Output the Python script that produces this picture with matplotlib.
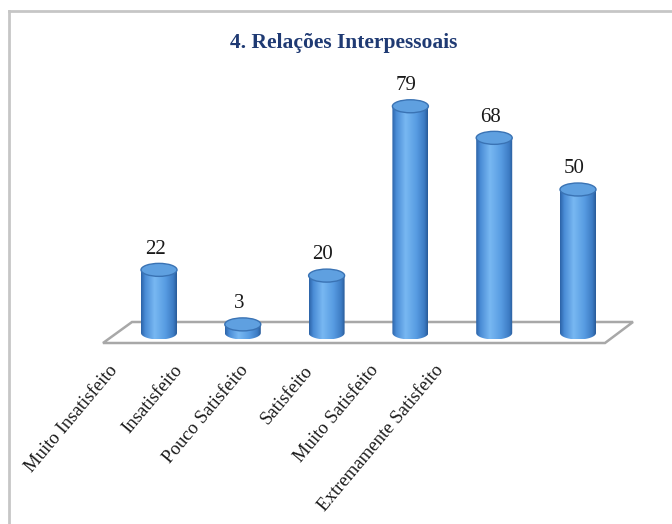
import numpy as np
import matplotlib
matplotlib.use("Agg")
import matplotlib.pyplot as plt
from matplotlib.patches import Polygon, Ellipse
from matplotlib.colors import LinearSegmentedColormap
from matplotlib.lines import Line2D

categories = ["Muito Insatisfeito", "Insatisfeito", "Pouco Satisfeito",
              "Satisfeito", "Muito Satisfeito", "Extremamente Satisfeito"]
values = [22, 3, 20, 79, 68, 50]
title = "4. Relações Interpessoais"

W, H = 672, 524
fig = plt.figure(figsize=(W / 100, H / 100), dpi=100)
ax = fig.add_axes([0, 0, 1, 1])
ax.axis("off")

# pixel layout: category i at x0 + dx*i, value v at y0 - k*v (from top)
x0, dx = 159.0, 83.8
y0, k = 333.0, 2.87
xlim = (-x0 / dx, (W - x0) / dx)
ylim = (-(H - y0) / k, y0 / k)

serif = "Liberation Serif"

# cylinder shading, dark edges and a highlight left of centre
cyl = LinearSegmentedColormap.from_list("cyl", [
    (0.0, "#2b62a6"), (0.12, "#4a8cd6"), (0.38, "#78b8f2"),
    (0.68, "#589ce2"), (0.9, "#3d7cc4"), (1.0, "#285a98")])
grad = np.linspace(0, 1, 256).reshape(1, -1)

# floor plate
fx_front = ((103 - x0) / dx, (605 - x0) / dx)
fx_back = ((132 - x0) / dx, (633 - x0) / dx)
fy_front = (y0 - 343) / k
fy_back = (y0 - 322) / k
floor = Polygon([(fx_front[0], fy_front), (fx_front[1], fy_front),
                 (fx_back[1], fy_back), (fx_back[0], fy_back)],
                closed=True, facecolor="white", edgecolor="#a8a8a8",
                lw=1.8, zorder=1)
ax.add_patch(floor)

w = 18 / dx      # cylinder half width
ry = 6.5 / k     # ellipse half height
t = np.linspace(np.pi, 2 * np.pi, 60)

for i, v in enumerate(values):
    bx = i + w * np.cos(t)
    by = ry * np.sin(t)
    pts = np.column_stack([bx, by]).tolist() + [(i + w, v), (i - w, v)]
    body = Polygon(pts, closed=True, facecolor="none", edgecolor="none")
    ax.add_patch(body)
    im = ax.imshow(grad, cmap=cyl, aspect="auto", zorder=2,
                   extent=[i - w, i + w, -ry, v], interpolation="bilinear")
    im.set_clip_path(body)
    top = Ellipse((i, v), 2 * w, 2 * ry, facecolor="#5fa0e0",
                  edgecolor="#3a73b4", lw=1.0, zorder=3)
    ax.add_patch(top)
    ax.text(i - 4 / dx, v + 7.2, str(v), ha="center", va="center",
            fontsize=15, family=serif, color="#1a1a1a", zorder=4)

# category labels run along the front edge with their own spacing
lx0, ldx = (108 - x0) / dx, 65.2 / dx
ly = (y0 - 362) / k
for i, name in enumerate(categories):
    ax.text(lx0 + ldx * i, ly, name, rotation=50, rotation_mode="anchor",
            ha="right", va="top", fontsize=13.5, family=serif,
            color="#1a1a1a")

ax.set_xlim(*xlim)
ax.set_ylim(*ylim)

fig.text(344 / W, 1 - 43 / H, title, ha="center", va="center",
         fontsize=15.5, fontweight="bold", family=serif, color="#1f3a73")

# chart area border (top and left edges)
fig.add_artist(Line2D([9 / W, 1], [1 - 11 / H, 1 - 11 / H],
                      color="#c6c6c6", lw=2))
fig.add_artist(Line2D([9 / W, 9 / W], [0, 1 - 11 / H],
                      color="#c6c6c6", lw=2))

fig.savefig("out.png", dpi=100)
